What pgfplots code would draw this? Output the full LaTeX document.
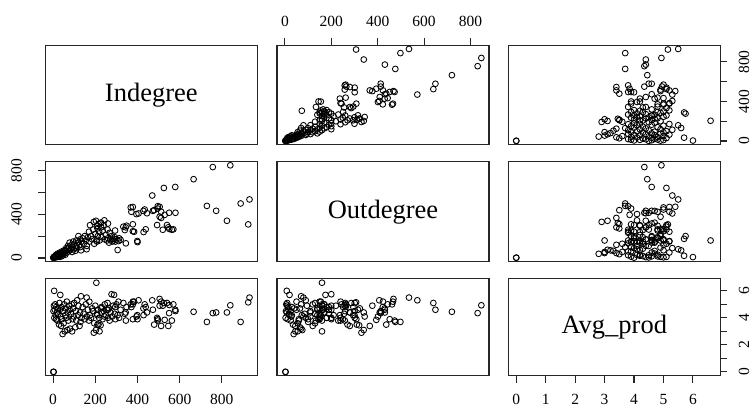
\documentclass[border=0pt]{standalone}
\usepackage{fontspec}
\setmainfont{Liberation Serif}
\usepackage{pgfplots}
\usepackage{pgfplotstable}
\pgfplotsset{compat=1.18}

% columns: Indegree, Outdegree, Avg_prod
\pgfplotstableread{
ind out avg
1 2 0
3 3 0
5 8 6.0
34 20 5.7
2 5 4.5
4 10 4.9
6 3 4.0
8 15 4.6
10 6 5.0
12 20 4.2
14 12 3.9
15 30 4.8
18 8 4.4
20 25 3.8
22 40 4.7
25 18 4.3
28 35 3.5
30 10 5.1
32 50 4.6
36 28 4.1
38 45 3.4
40 15 4.8
42 60 3.9
45 38 2.8
48 25 4.5
50 55 3.6
52 70 5.0
55 45 3.0
58 30 4.2
60 65 4.7
62 90 4.0
65 50 5.2
68 75 3.1
70 110 4.4
72 60 3.8
75 95 4.9
78 140 4.6
80 70 3.2
85 85 4.3
88 120 5.0
90 55 3.0
92 100 3.9
95 150 4.7
98 80 4.1
100 130 5.1
105 65 3.3
108 110 4.5
110 160 3.8
114 90 5.3
118 140 4.2
120 200 4.9
125 120 3.4
128 170 4.4
130 100 3.7
132 70 5.6
135 150 4.0
140 180 4.8
145 130 4.3
150 200 3.9
155 160 5.0
159 80 5.5
160 110 4.1
165 190 4.6
170 240 3.8
172 150 5.2
175 300 4.2
180 200 4.0
185 170 4.7
190 260 4.5
193 330 2.9
195 130 3.6
200 220 4.9
203 340 3.1
205 160 6.6
208 150 4.3
210 270 3.5
212 200 4.6
215 310 3.5
218 240 4.0
220 160 3.0
225 320 3.45
228 280 4.4
230 190 4.8
235 250 3.9
240 300 4.5
245 170 5.0
250 210 4.2
255 160 4.6
258 260 5.1
260 180 4.0
265 140 4.7
268 230 3.8
272 170 4.4
277 200 5.75
280 150 4.1
285 160 4.9
289 175 5.7
292 190 4.3
295 150 3.9
300 170 5.0
306 73 4.2
310 155 5.2
313 180 4.0
320 165 4.6
333 286 5.1
340 255 4.3
345 134 3.8
348 295 4.8
384 240 5.2
399 155 4.2
400 145 3.9
368 462 5.0
371 422 4.8
378 466 5.2
395 401 4.1
405 407 5.3
428 430 4.7
434 443 5.0
445 409 4.4
473 431 4.6
479 437 3.5
496 452 3.9
496 473 3.8
505 468 5.4
505 377 4.9
512 366 3.4
512 423 5.2
529 394 3.85
546 280 3.4
550 413 4.35
520 258 4.9
540 301 5.1
551 265 4.95
563 258 3.8
570 262 5.0
580 413 4.5
493 301 4.0
439 262 4.8
429 237 4.2
378 244 5.0
344 280 4.4
378 308 3.9
260 315 4.6
243 344 4.1
227 323 4.7
210 294 4.2
294 251 4.8
470 571 5.3
525 640 5.1
579 649 4.6
666 720 4.45
729 476 3.7
757 831 4.35
773 431 4.4
824 340 4.4
840 847 4.93
889 498 3.7
925 307 5.15
931 535 5.5
}\data

\pgfplotsset{
  panel/.style={scale only axis, width=212bp, height=99bp, anchor=south west,
    axis line style={line width=1.1bp, black!85},
    every tick/.style={line width=1.1bp, black!85},
    tick align=outside, major tick length=7bp,
    xtick=\empty, ytick=\empty,
    tick label style={font=\fontsize{15.5bp}{17bp}\selectfont}},
  pts/.style={only marks, mark=o, mark size=2.9bp, black, mark options={line width=0.85bp}},
  indx/.style={xmin=-37, xmax=968},
  outx/.style={xmin=-34, xmax=880},
  avgx/.style={xmin=-0.27, xmax=6.93},
  indy/.style={ymin=-37, ymax=968},
  outy/.style={ymin=-34, ymax=880},
  avgy/.style={ymin=-0.27, ymax=6.93},
}
\newcommand{\diagfont}{\fontsize{26.5bp}{30bp}\selectfont}

\begin{document}
\begin{tikzpicture}
\path[use as bounding box] (0,0) rectangle (754bp,409bp);

% row 1
\begin{axis}[panel, at={(45.3bp,264.3bp)}, height=99.4bp, indx, indy]
\node at (rel axis cs:0.5,0.5) {\diagfont Indegree};
\end{axis}
\begin{axis}[panel, at={(277bp,264.3bp)}, height=99.4bp, outx, indy,
  xtick={0,200,...,800}, xticklabels={0,200,400,600,800},
  xtick pos=upper, xticklabel pos=upper, xticklabel shift=8bp]
\addplot[pts] table[x=out, y=ind] {\data};
\end{axis}
\begin{axis}[panel, at={(508.3bp,264.3bp)}, height=99.4bp, avgx, indy,
  ytick={0,200,...,800}, yticklabels={0,,400,,800}, ytick pos=right, yticklabel pos=right,
  yticklabel style={rotate=90, anchor=north}, yticklabel shift=8bp]
\addplot[pts] table[x=avg, y=ind] {\data};
\end{axis}

% row 2
\begin{axis}[panel, at={(45.3bp,147.3bp)}, height=100bp, indx, outy,
  ytick={0,200,...,800}, yticklabels={0,,400,,800}, ytick pos=left, yticklabel pos=left,
  yticklabel style={rotate=90, anchor=south}, yticklabel shift=13bp]
\addplot[pts] table[x=ind, y=out] {\data};
\end{axis}
\begin{axis}[panel, at={(277bp,147.3bp)}, height=100bp, outx, outy]
\node at (rel axis cs:0.5,0.5) {\diagfont Outdegree};
\end{axis}
\begin{axis}[panel, at={(508.3bp,147.3bp)}, height=100bp, avgx, outy]
\addplot[pts] table[x=avg, y=out] {\data};
\end{axis}

% row 3
\begin{axis}[panel, at={(45.3bp,33.5bp)}, height=97.2bp, indx, avgy,
  xtick={0,200,...,800}, xticklabels={0,200,400,600,800},
  xtick pos=lower, xticklabel pos=lower, xticklabel shift=8bp]
\addplot[pts] table[x=ind, y=avg] {\data};
\end{axis}
\begin{axis}[panel, at={(277bp,33.5bp)}, height=97.2bp, outx, avgy]
\addplot[pts] table[x=out, y=avg] {\data};
\end{axis}
\begin{axis}[panel, at={(508.3bp,33.5bp)}, height=97.2bp, avgx, avgy,
  xtick={0,...,6}, xticklabels={0,1,2,3,4,5,6}, xtick pos=lower, xticklabel pos=lower,
  xticklabel shift=8bp,
  ytick={0,...,6}, yticklabels={0,,2,,4,,6}, ytick pos=right, yticklabel pos=right,
  yticklabel style={rotate=90, anchor=north}, yticklabel shift=8bp]
\node at (rel axis cs:0.5,0.5) {\diagfont Avg\_prod};
\end{axis}
\end{tikzpicture}
\end{document}
